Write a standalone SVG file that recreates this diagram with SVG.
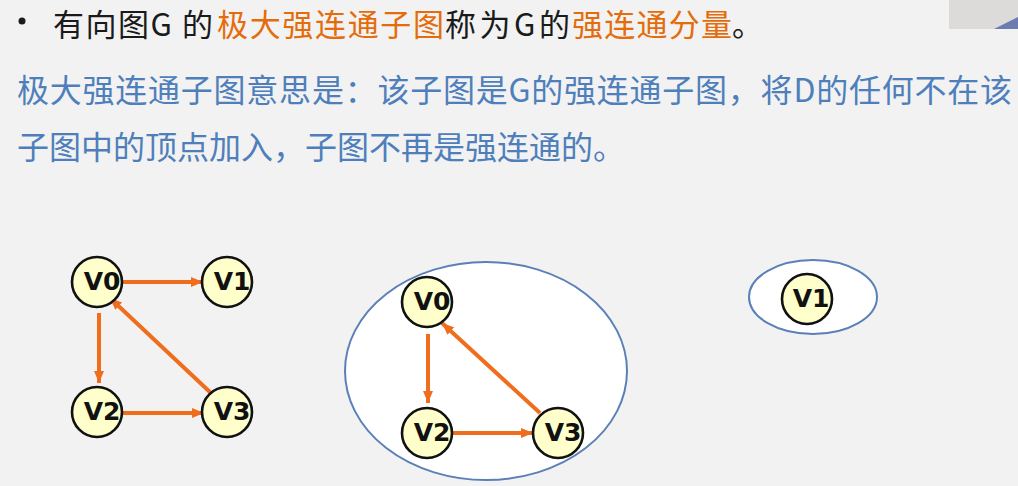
<svg xmlns="http://www.w3.org/2000/svg" width="1018" height="486" viewBox="0 0 1018 486">
<defs>
<style>
.t{font-family:"Noto Sans CJK SC","Liberation Sans",sans-serif;font-size:32px}
.t1{font-family:"Noto Sans CJK SC","Liberation Sans",sans-serif;font-size:31px}
.blk{fill:#1a1a1a}
.org{fill:#e46c0a}
.blu{fill:#4f7fbb}
.nd{fill:#ffffcc;stroke:#111;stroke-width:2.6}
.lb{font-family:"DejaVu Sans",sans-serif;font-weight:bold;font-size:25px;fill:#111;text-anchor:middle}
.ed{stroke:#f06d1e;stroke-width:4;fill:none;marker-end:url(#ah)}
.grp{fill:#ffffff;stroke:#5b80b8;stroke-width:2}
</style>
<marker id="ah" viewBox="0 0 12 10" refX="12" refY="5" markerWidth="12" markerHeight="10" markerUnits="userSpaceOnUse" orient="auto">
<path d="M0,0 L12,5 L0,10 z" fill="#f06d1e"/>
</marker>
</defs>
<rect x="0" y="0" width="1018" height="486" fill="#f2f2f2"/>
<rect x="949" y="0" width="69" height="29" fill="#dcdbda"/>
<path d="M994,29 L1018,17 L1018,29 z" fill="#6a7cb0"/>

<g id="text">
<circle cx="22" cy="21" r="3.5" fill="#1a1a1a"/>
<text class="t1 blk" x="53" y="36" textLength="160" lengthAdjust="spacing">有向图G 的</text>
<text class="t1 org" x="217" y="36" textLength="227" lengthAdjust="spacing">极大强连通子图</text>
<text class="t1 blk" x="445" y="36" textLength="125" lengthAdjust="spacing">称为G的</text>
<text class="t1 org" x="572" y="36" textLength="160" lengthAdjust="spacing">强连通分量</text>
<text class="t1 blk" x="732" y="36">。</text>
<text class="t blu" x="17" y="102" textLength="995" lengthAdjust="spacing">极大强连通子图意思是：该子图是G的强连通子图，将D的任何不在该</text>
<text class="t blu" x="17" y="159">子图中的顶点加入，子图不再是强连通的。</text>
</g>

<g id="group-a">
<ellipse class="grp" cx="486" cy="371" rx="141" ry="109"/>
</g>
<g id="group-b">
<ellipse class="grp" cx="813" cy="297" rx="64" ry="37"/>
</g>

<g id="connectors">
<line class="ed" x1="123" y1="282" x2="203" y2="282"/>
<line class="ed" x1="99" y1="313" x2="99" y2="383"/>
<line class="ed" x1="123" y1="413" x2="204" y2="413"/>
<line class="ed" x1="212" y1="394" x2="110" y2="298"/>
<line class="ed" x1="428" y1="334" x2="428" y2="403"/>
<line class="ed" x1="453" y1="433" x2="533" y2="433"/>
<line class="ed" x1="540" y1="413" x2="442" y2="323"/>
</g>

<g id="L-V0"><circle class="nd" cx="97" cy="282" r="25"/><text class="lb" x="102" y="290">V0</text></g>
<g id="L-V1"><circle class="nd" cx="227" cy="282" r="25"/><text class="lb" x="232" y="290">V1</text></g>
<g id="L-V2"><circle class="nd" cx="97" cy="412" r="25"/><text class="lb" x="102" y="420">V2</text></g>
<g id="L-V3"><circle class="nd" cx="227" cy="412" r="25"/><text class="lb" x="232" y="420">V3</text></g>

<g id="M-V0"><circle class="nd" cx="427" cy="302" r="25"/><text class="lb" x="432" y="310">V0</text></g>
<g id="M-V2"><circle class="nd" cx="427" cy="433" r="25"/><text class="lb" x="432" y="441">V2</text></g>
<g id="M-V3"><circle class="nd" cx="558" cy="433" r="25"/><text class="lb" x="563" y="441">V3</text></g>

<g id="R-V1"><circle class="nd" cx="807" cy="299" r="25"/><text class="lb" x="811" y="307">V1</text></g>
</svg>
